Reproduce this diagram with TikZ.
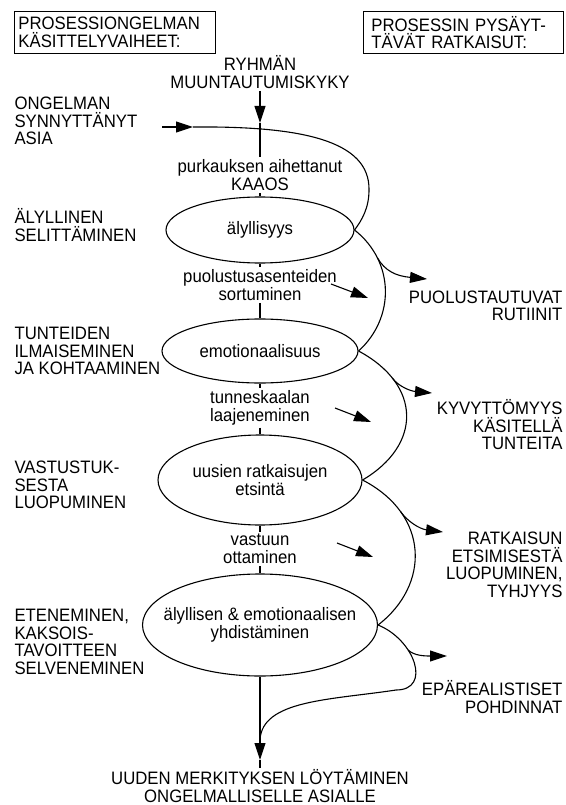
\documentclass[tikz,border=0pt]{standalone}
\usepackage{fontspec}
\setmainfont{Liberation Sans}[FakeStretch=0.93]
\usetikzlibrary{shapes.geometric,arrows.meta}

\begin{document}
\begin{tikzpicture}[x=1pt, y=-1pt, line width=1.1pt,
        txt/.style={font=\fontsize{18}{17.5}\selectfont, inner sep=2pt},
        hdr/.style={txt, draw, line width=0.9pt, anchor=north west, align=left, minimum height=42pt},
        stage/.style={txt, ellipse, draw, align=center, inner xsep=-20pt, inner ysep=0pt},
        chainlbl/.style={txt, align=center},
        phase/.style={txt, align=left, anchor=west},
        sidelbl/.style={txt, align=right, anchor=east},
        arr/.style={-{Triangle[length=17pt,width=11pt]}}]
        \useasboundingbox (0,0) rectangle (565,805);

        % Headers
        \node[hdr, text width=193pt, inner xsep=4pt] (hdrL) at (14,11) {PROSESSIONGELMAN\\KÄSITTELYVAIHEET:};
        \node[hdr, text width=184pt, inner xsep=8pt] (hdrR) at (363,11) {PROSESSIN PYSÄYT-\\TÄVÄT RATKAISUT:};

        % Main chain
        \node[chainlbl] (ryh) at (260,72) {RYHMÄN\\MUUNTAUTUMISKYKY};
        \node[chainlbl] (purk) at (260,175) {purkauksen aihettanut\\KAAOS};
        \node[stage, minimum width=188pt, minimum height=66pt] (aly) at (260,230) {älyllisyys};
        \node[chainlbl] (puol) at (260,285) {puolustusasenteiden\\sortuminen};
        \node[stage, minimum width=196pt, minimum height=64pt] (emo) at (260,351) {emotionaalisuus};
        \node[chainlbl] (tunn) at (260,408) {tunneskaalan\\laajeneminen};
        \node[stage, minimum width=204pt, minimum height=90pt] (uus) at (260,480) {uusien ratkaisujen\\etsintä};
        \node[chainlbl] (vas) at (260,549) {vastuun\\ottaminen};
        \node[stage, minimum width=235pt, minimum height=102pt] (yhd) at (260,625) {älyllisen \& emotionaalisen\\yhdistäminen};
        \node[chainlbl, inner sep=1pt] (uud) at (260,786) {UUDEN MERKITYKSEN LÖYTÄMINEN\\ONGELMALLISELLE ASIALLE};

        % Phases (left)
        \node[phase] (ong) at (12,121) {ONGELMAN\\SYNNYTTÄNYT\\ASIA};
        \node[phase] (alyl) at (12,225) {ÄLYLLINEN\\SELITTÄMINEN};
        \node[phase] (tun) at (12,351) {TUNTEIDEN\\ILMAISEMINEN\\JA KOHTAAMINEN};
        \node[phase] (vast) at (12,485) {VASTUSTUK-\\SESTA\\LUOPUMINEN};
        \node[phase] (eten) at (12,642) {ETENEMINEN,\\KAKSOIS-\\TAVOITTEEN\\SELVENEMINEN};

        % Stopping solutions (right)
        \node[sidelbl] (puo) at (565,306) {PUOLUSTAUTUVAT\\RUTIINIT};
        \node[sidelbl] (kyv) at (565,425) {KYVYTTÖMYYS\\KÄSITELLÄ\\TUNTEITA};
        \node[sidelbl] (rat) at (565,565) {RATKAISUN\\ETSIMISESTÄ\\LUOPUMINEN,\\TYHJYYS};
        \node[sidelbl] (epa) at (565,697) {EPÄREALISTISET\\POHDINNAT};

        % Chain connections
        \coordinate (ryhtip) at (260,123);
        \coordinate (endtip) at (260,760);
        \coordinate (merge) at (260,740);
        \draw[arr] (ryh) -- (ryhtip);
        \draw (ryhtip) -- (purk);
        \draw (purk) -- (aly);
        \draw (aly) -- (puol);
        \draw (puol) -- (emo);
        \draw (emo) -- (tunn);
        \draw (tunn) -- (uus);
        \draw (uus) -- (vas);
        \draw (vas) -- (yhd);
        \draw[arr] (yhd) -- (endtip);
        \draw (endtip) -- (uud);

        % Winding curve
        \coordinate (in0) at (162,127);
        \coordinate (in1) at (193,127);
        \draw[arr] (in0) -- (in1);
        \draw (in1) .. controls (300,126) and (370,140) .. (369,190) .. controls (369,208) and (362,220) .. (aly.east);
        \draw (aly.east) .. controls (395,262) and (395,318) .. (emo.east) coordinate[pos=0.25] (b1);
        \draw (emo.east) .. controls (422,385) and (422,445) .. (uus.east) coordinate[pos=0.23] (b2);
        \draw (uus.east) .. controls (430,515) and (430,585) .. (yhd.east) coordinate[pos=0.25] (b3);
        \draw (yhd.east) .. controls (415,640) and (432,690) .. (396,690) coordinate[pos=0.35] (b4) .. controls (330,700) and (262,700) .. (merge);

        % Branches to the stopping solutions
        \coordinate (t1) at (427,279);
        \coordinate (t2) at (432,393);
        \coordinate (t3) at (443,532);
        \coordinate (t4) at (447,656);
        \draw[arr] (b1) .. controls (385,271) and (396,276) .. (t1);
        \draw[arr] (b2) .. controls (398,386) and (410,391) .. (t2);
        \draw[arr] (b3) .. controls (408,522) and (420,529) .. (t3);
        \draw[arr] (b4) .. controls (414,656) and (426,656) .. (t4);

        % Short arrows
        \coordinate (d1a) at (331,284);
        \coordinate (d1b) at (368,298);
        \coordinate (d2a) at (335,408);
        \coordinate (d2b) at (371,422);
        \coordinate (d3a) at (337,543);
        \coordinate (d3b) at (373,557);
        \draw[arr] (d1a) -- (d1b);
        \draw[arr] (d2a) -- (d2b);
        \draw[arr] (d3a) -- (d3b);
\end{tikzpicture}
\end{document}
